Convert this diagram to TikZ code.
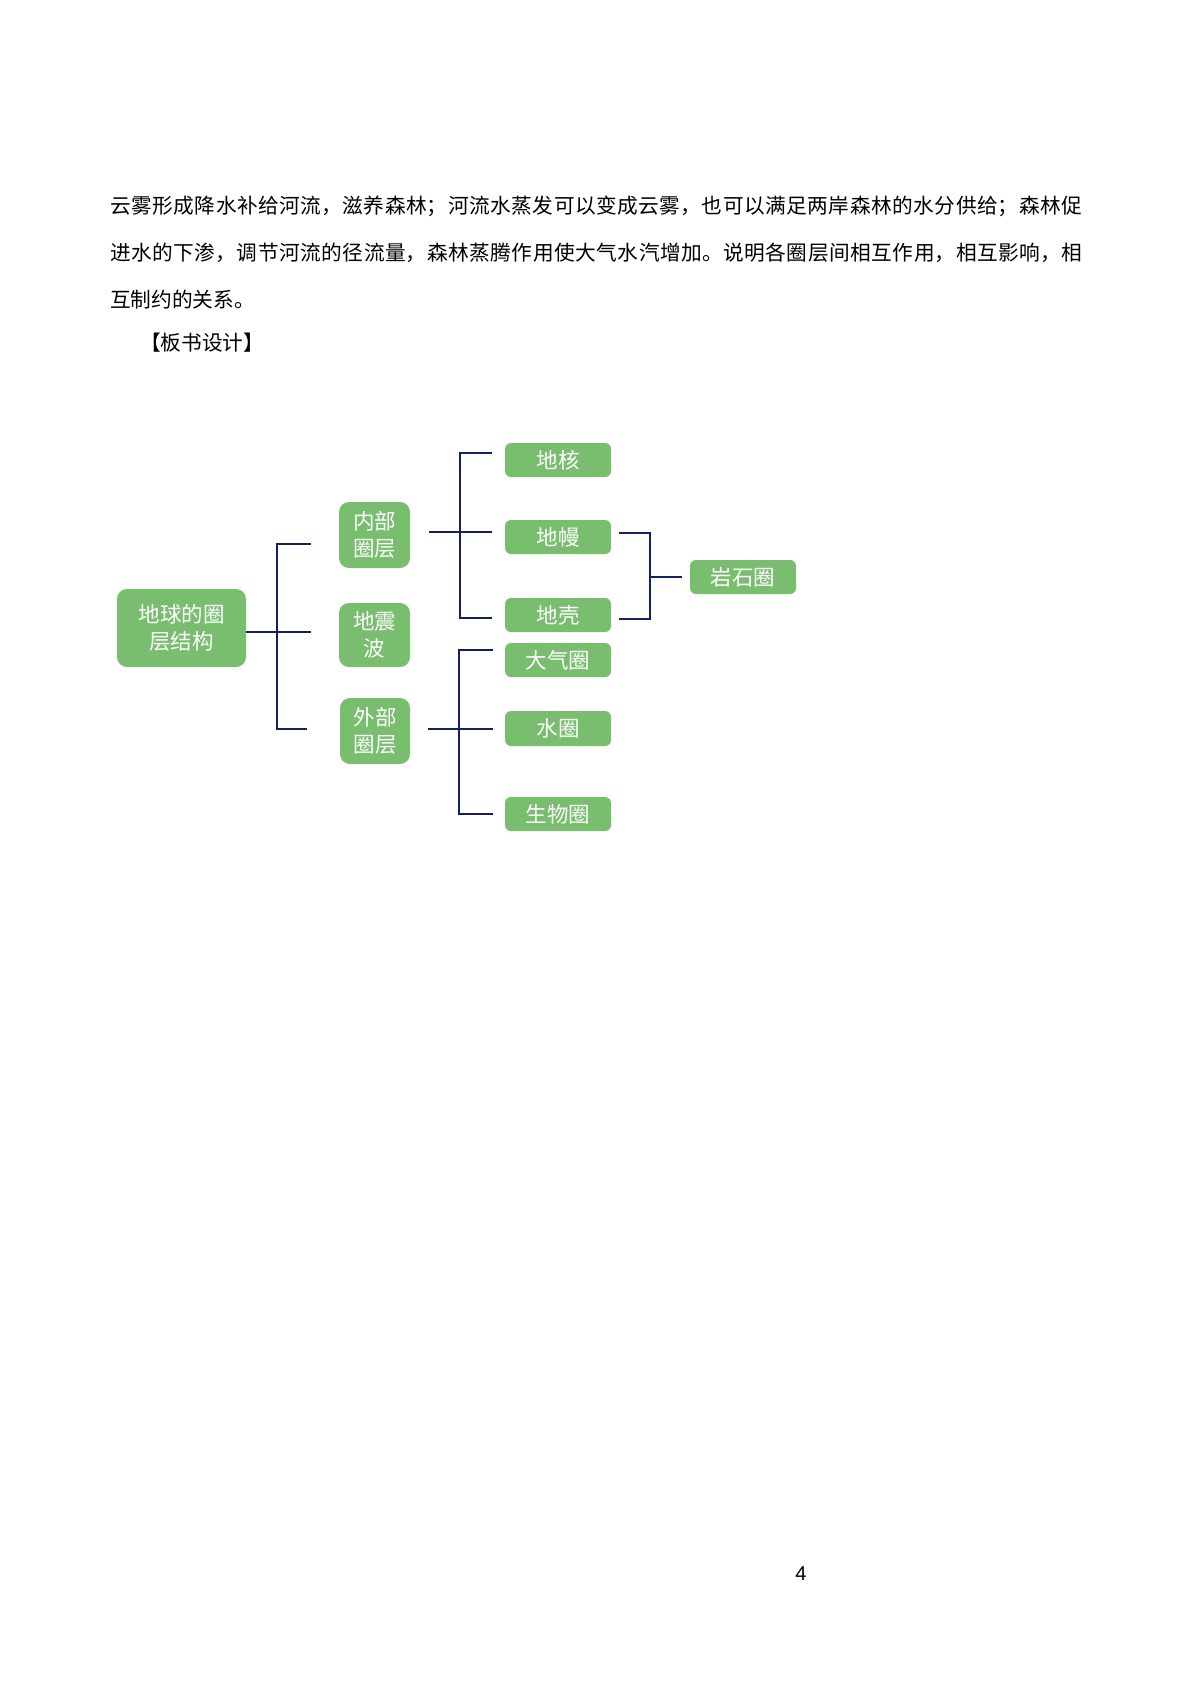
\documentclass[tikz,border=0pt]{standalone}
\usepackage{fontspec}
\setmainfont{Noto Sans CJK SC}
\newfontfamily\numfont{Liberation Sans}
\definecolor{boxgreen}{HTML}{79BD6F}
\definecolor{linenavy}{HTML}{13215E}
\XeTeXlinebreaklocale "zh"
\XeTeXlinebreakskip=0pt plus 2pt
\newcommand{\fullline}[1]{\parbox{972pt}{\parfillskip=0pt\relax\noindent #1\par}}
\begin{document}
\begin{tikzpicture}[x=1pt,y=-1pt,
  para/.style={anchor=west,inner sep=0pt,font=\fontsize{20.68}{24}\selectfont},
  gbox/.style={fill=boxgreen,text=white,rounded corners=6pt,inner sep=0pt,align=center,
     font=\fontsize{21.5}{27}\selectfont},
  bigbox/.style={gbox,rounded corners=10pt},
  conn/.style={draw=linenavy,line width=2.4pt}]
\useasboundingbox (0,0) rectangle (1191,1684);
\fill[white] (0,0) rectangle (1191,1684);
% paragraph
\node[para] (l1) at (110,206) {\fullline{云雾形成降水补给河流，滋养森林；河流水蒸发可以变成云雾，也可以满足两岸森林的水分供给；森林促}};
\node[para] (l2) at (110,253) {\fullline{进水的下渗，调节河流的径流量，森林蒸腾作用使大气水汽增加。说明各圈层间相互作用，相互影响，相}};
\node[para] (l3) at (110,300) {互制约的关系。};
\node[para] (l4) at (140,343) {【板书设计】};
% boxes
\node[bigbox,minimum width=129pt,minimum height=78pt] (root) at (181.5,628) {地球的圈\\层结构};
\node[bigbox,minimum width=71pt,minimum height=66pt] (inner) at (374.5,535) {内部\\圈层};
\node[bigbox,minimum width=71pt,minimum height=64pt] (quake) at (374.5,635) {地震\\波};
\node[bigbox,minimum width=70pt,minimum height=66pt] (outer) at (375,731) {外部\\圈层};
\node[gbox,minimum width=106pt,minimum height=34pt] (core) at (558,460) {地核};
\node[gbox,minimum width=106pt,minimum height=34pt] (mantle) at (558,537) {地幔};
\node[gbox,minimum width=106pt,minimum height=34pt] (crust) at (558,615) {地壳};
\node[gbox,minimum width=106pt,minimum height=34pt] (atmo) at (558,660) {大气圈};
\node[gbox,minimum width=106pt,minimum height=35pt] (hydro) at (558,728.5) {水圈};
\node[gbox,minimum width=106pt,minimum height=34pt] (bio) at (558,814) {生物圈};
\node[gbox,minimum width=106pt,minimum height=34pt] (litho) at (743,577) {岩石圈};
% page number
\node[inner sep=0pt,font=\numfont\fontsize{20}{24}\selectfont] (pnum) at (801,1574) {4};
% connector coordinates
\coordinate (r0) at (root.east |- 0,632);
\coordinate (t1a) at (277,544); \coordinate (t1b) at (277,632); \coordinate (t1c) at (277,729);
\coordinate (e1a) at (311,544); \coordinate (e1b) at (311,632); \coordinate (e1c) at (307,729);
\coordinate (i0) at (429,532); \coordinate (i1) at (460,532);
\coordinate (ia) at (460,453); \coordinate (ic) at (460,618);
\coordinate (iae) at (492,453); \coordinate (ibe) at (492,532); \coordinate (ice) at (492,618);
\coordinate (m0) at (619,533); \coordinate (c0) at (619,619);
\coordinate (k1) at (650,533); \coordinate (k2) at (650,619); \coordinate (k3) at (650,577);
\coordinate (k4) at (682,577);
\coordinate (o0) at (428,729); \coordinate (o1) at (459,729);
\coordinate (oa) at (459,650); \coordinate (oc) at (459,814);
\coordinate (oae) at (493,650); \coordinate (obe) at (493,729); \coordinate (oce) at (493,814);
% connectors
\draw[conn] (r0) -- (t1b);
\draw[conn] (e1a) -- (t1a) -- (t1c) -- (e1c);
\draw[conn] (t1b) -- (e1b);
\draw[conn] (i0) -- (i1);
\draw[conn] (iae) -- (ia) -- (ic) -- (ice);
\draw[conn] (i1) -- (ibe);
\draw[conn] (m0) -- (k1) -- (k2) -- (c0);
\draw[conn] (k3) -- (k4);
\draw[conn] (o0) -- (o1);
\draw[conn] (oae) -- (oa) -- (oc) -- (oce);
\draw[conn] (o1) -- (obe);
\end{tikzpicture}
\end{document}
